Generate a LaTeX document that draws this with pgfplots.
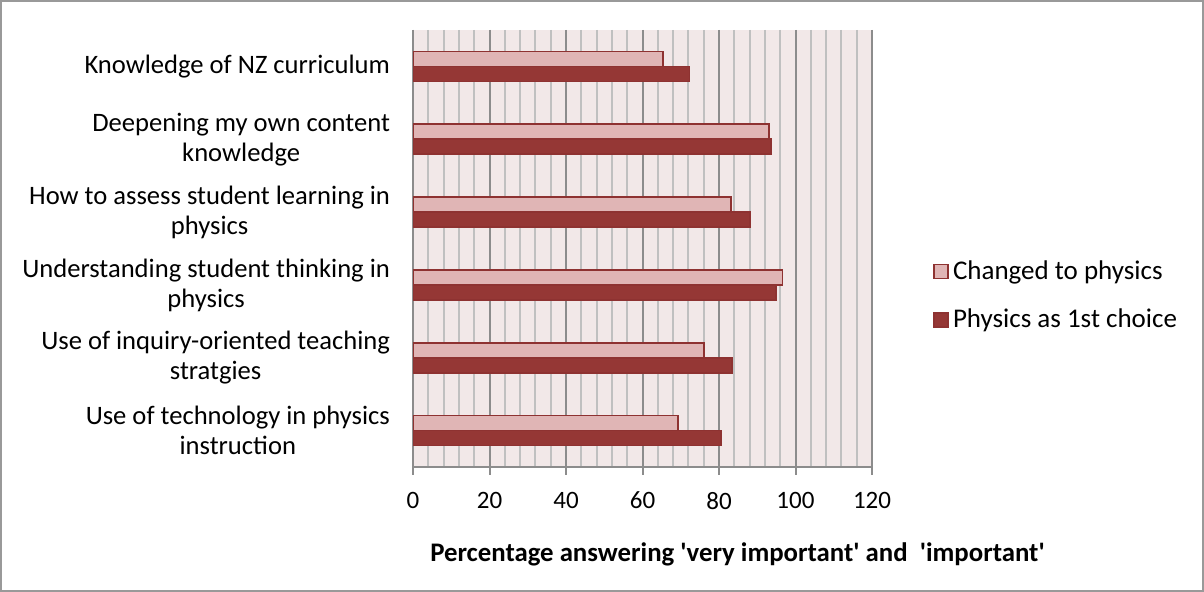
\documentclass[border=0pt]{standalone}
\usepackage{fontspec}
\setmainfont{Carlito}
\usepackage{pgfplots}
\pgfplotsset{compat=1.18}
\definecolor{bg}{HTML}{F2E8E8}
\definecolor{lightbar}{HTML}{E0B5B5}
\definecolor{darkbar}{HTML}{953735}
\definecolor{barline}{HTML}{8E3231}
\definecolor{majgrid}{HTML}{8C8C8C}
\definecolor{mingrid}{HTML}{C0C0C0}
\begin{document}
\begin{tikzpicture}
\useasboundingbox (0,0) rectangle (602pt,296pt);
\draw[gray!80, line width=1pt] (0.5pt,0.5pt) rectangle (601.5pt,295.5pt);
\begin{axis}[
 at={(206.5pt,62.5pt)}, anchor=south west,
 scale only axis, width=229.5pt, height=218.5pt,
 xbar=0pt, bar width=7.5pt,
 xmin=0, xmax=120, xtick={0,20,...,120}, minor x tick num=4,
 ymin=-0.5, ymax=5.5, y dir=reverse,
 ytick={0,...,5},
 yticklabels={{Knowledge of NZ curriculum},{Deepening my own content\\knowledge},{How to assess student learning in\\physics},{Understanding student thinking in\\physics},{Use of inquiry-oriented teaching\\stratgies},{Use of technology in physics\\instruction}},
 yticklabel style={align=center, font=\fontsize{13.3}{15}\selectfont, xshift=-4pt},
 xticklabel style={font=\fontsize{12.5}{14}\selectfont, yshift=-5pt},
 /pgf/number format/assume math mode=true,
 axis background/.style={fill=bg},
 xmajorgrids, xminorgrids,
 major grid style={majgrid, line width=1pt},
 minor grid style={mingrid, line width=1pt},
 axis x line*=bottom, axis y line*=left,
 axis line style={majgrid, line width=1pt, -},
 ytick style={draw=none},
 xtick style={majgrid, line width=1pt},
 major tick length=4pt, minor tick length=0pt, tick align=outside,
 xlabel={Percentage answering \textquotesingle very important\textquotesingle\ and \ \textquotesingle important\textquotesingle},
 xlabel style={font=\bfseries\fontsize{13.4}{15}\selectfont, xshift=47.5pt, yshift=-10pt},
 legend style={at={(1,0.392)}, anchor=west, xshift=30.5pt, draw=none, fill=none, font=\fontsize{13.5}{15}\selectfont, row sep=9.5pt, legend cell align=left, inner xsep=0pt, nodes={inner xsep=2pt}},
 legend image code/.code={\draw[#1] (0pt,-3.5pt) rectangle (7pt,3.5pt);},
]
\addplot[fill=lightbar, draw=barline, line width=0.8pt, bar shift=3.75pt] coordinates {(65.4,0) (93.1,1) (83.1,2) (96.6,3) (76.1,4) (69.3,5)};
\addplot[fill=darkbar, draw=barline, line width=0.8pt, bar shift=-3.75pt] coordinates {(72.3,0) (93.6,1) (88.1,2) (94.9,3) (83.4,4) (80.5,5)};
\legend{Changed to physics, Physics as 1st choice}
\end{axis}
\end{tikzpicture}
\end{document}
